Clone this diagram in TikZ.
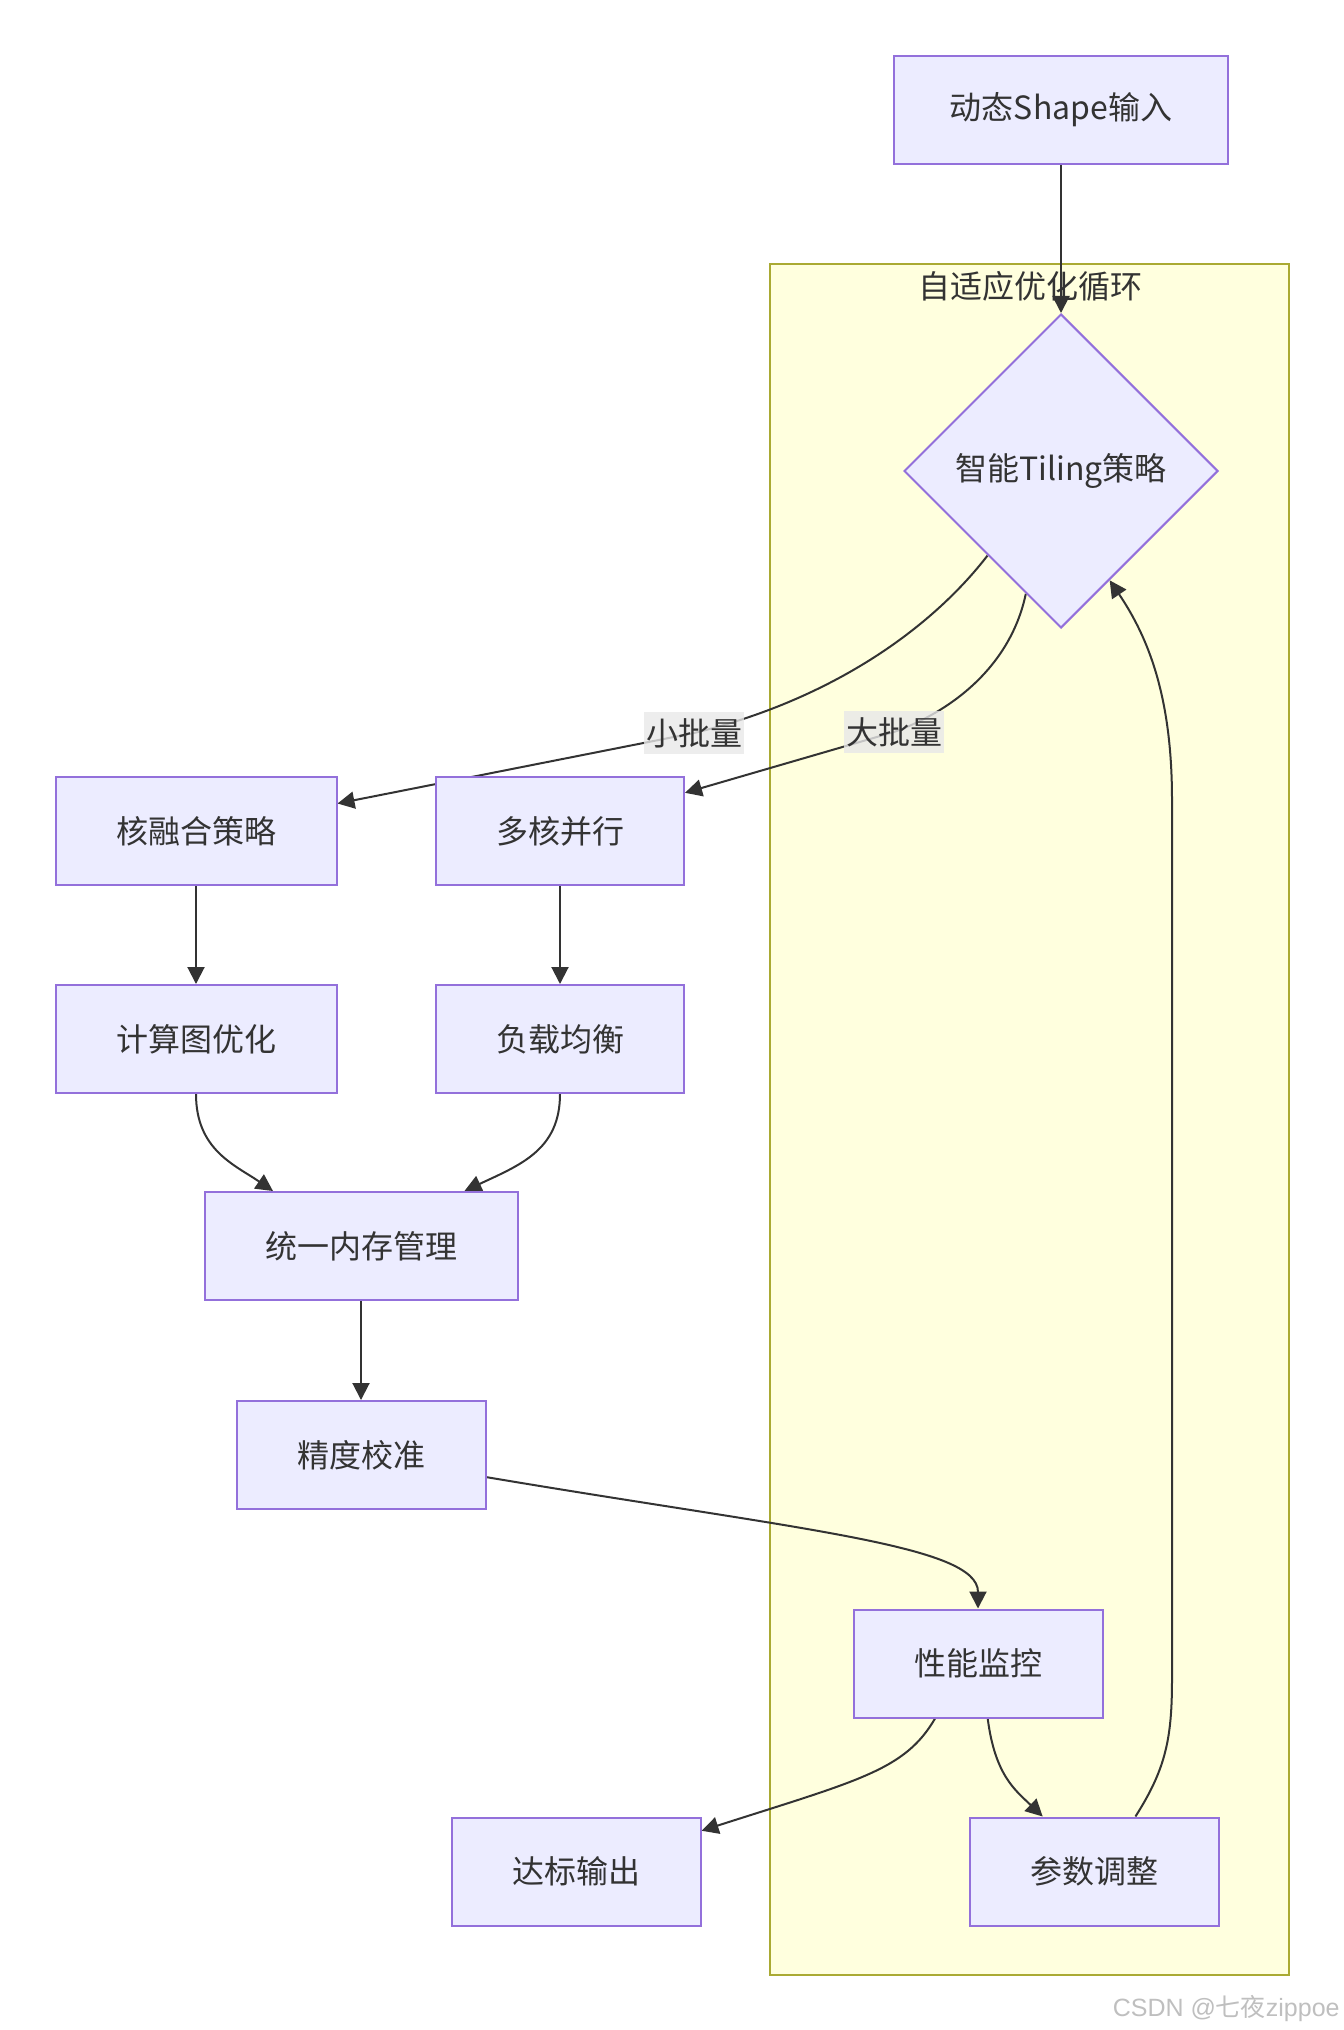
\documentclass[tikz,border=0pt]{standalone}
\usepackage{fontspec}
\setmainfont{Noto Sans CJK SC}
\newfontfamily\wmlatin{Liberation Sans}
\usetikzlibrary{shapes.geometric,arrows.meta}

\definecolor{nodefill}{HTML}{ECECFF}
\definecolor{nodeline}{HTML}{9370DB}
\definecolor{loopfill}{HTML}{FFFFDE}
\definecolor{loopline}{HTML}{AAAA33}
\definecolor{ink}{HTML}{333333}
\definecolor{lblfill}{HTML}{E8E8E8}

\pgfdeclarelayer{bg}
\pgfdeclarelayer{lines}
\pgfsetlayers{bg,lines,main}

\begin{document}
\begin{tikzpicture}[x=0.5pt, y=-0.5pt,
    box/.style={draw=nodeline, fill=nodefill, line width=1pt, minimum height=54pt,
        inner sep=0pt, text=ink, font=\fontsize{16pt}{19pt}\selectfont},
    choice/.style={box, diamond, aspect=1, minimum width=157pt, minimum height=157pt},
    flow/.style={draw=ink, line width=1pt, -{Triangle[length=8.5pt,width=8.5pt]}},
    lbl/.style={fill=lblfill, fill opacity=0.8, text opacity=1, text=ink,
        inner xsep=1pt, inner ysep=3pt, font=\fontsize{16pt}{19pt}\selectfont}]
    \useasboundingbox (0,0) rectangle (1344,2030);

    % Узлы
    \foreach \id/\cx/\cy/\w/\txt in {
        input/1061/110/167/动态Shape输入,
        fuse/196/831/140.5/核融合策略,
        multi/560/831/124/多核并行,
        graph/196/1039/140.5/计算图优化,
        balance/560/1039/124/负载均衡,
        mem/361/1246/156.5/统一内存管理,
        calib/361/1455/124.5/精度校准,
        monitor/978/1663.5/124.5/性能监控,
        output/576/1871.5/124.5/达标输出,
        param/1094/1871.5/124.5/参数调整}
    {
        \node[box, minimum width=\w pt] (\id) at (\cx,\cy) {\txt};
    }
    \node[choice] (tile) at (1061,471) {智能Tiling策略};

    % Контур цикла
    \begin{pgfonlayer}{bg}
        \node[draw=loopline, fill=loopfill, line width=1pt, inner sep=0pt,
            minimum width=259.5pt, minimum height=855.5pt] (loop) at (1029.5,1119.5) {};
        \node[text=ink, font=\fontsize{16pt}{19pt}\selectfont] (looptitle) at (1030,286) {自适应优化循环};
    \end{pgfonlayer}

    % Связи
    \begin{pgfonlayer}{lines}
        \foreach \a/\b in {input/tile, fuse/graph, multi/balance, mem/calib}
            \draw[flow] (\a) -- (\b);

        \draw[flow] (tile.-131) .. controls (930,630) and (830,700) .. (694,733) -- (fuse.11);
        \draw[flow] (tile.-106) .. controls (1012,660) and (960,708) .. (894,732) -- (multi.17);
        \node[lbl] (small) at (694,733) {小批量};
        \node[lbl] (large) at (894,732) {大批量};

        \draw[flow] (graph.south) .. controls (196,1150) and (235,1165) .. (mem.148);
        \draw[flow] (balance.south) .. controls (560,1150) and (520,1165) .. (mem.28);
        \draw[flow] (calib.-10) .. controls (800,1530) and (978,1545) .. (monitor.north);
        \draw[flow] (monitor.-128) .. controls (905,1770) and (860,1780) .. (output.18);
        \draw[flow] (monitor.-80) .. controls (995,1775) and (1015,1790) .. (param.133);
        % Обратная связь
        \draw[flow] (param.53) .. controls (1165,1770) and (1172,1740) .. (1172,1680)
            -- (1172,800) .. controls (1172,700) and (1150,640) .. (tile.-66);
    \end{pgfonlayer}

    % Водяной знак
    \node[anchor=east, text=black!25, inner sep=0pt, font=\fontsize{12.5pt}{14pt}\selectfont]
        (wm) at (1340,2008) {{\wmlatin CSDN @}七夜{\wmlatin zippoe}};
\end{tikzpicture}
\end{document}
